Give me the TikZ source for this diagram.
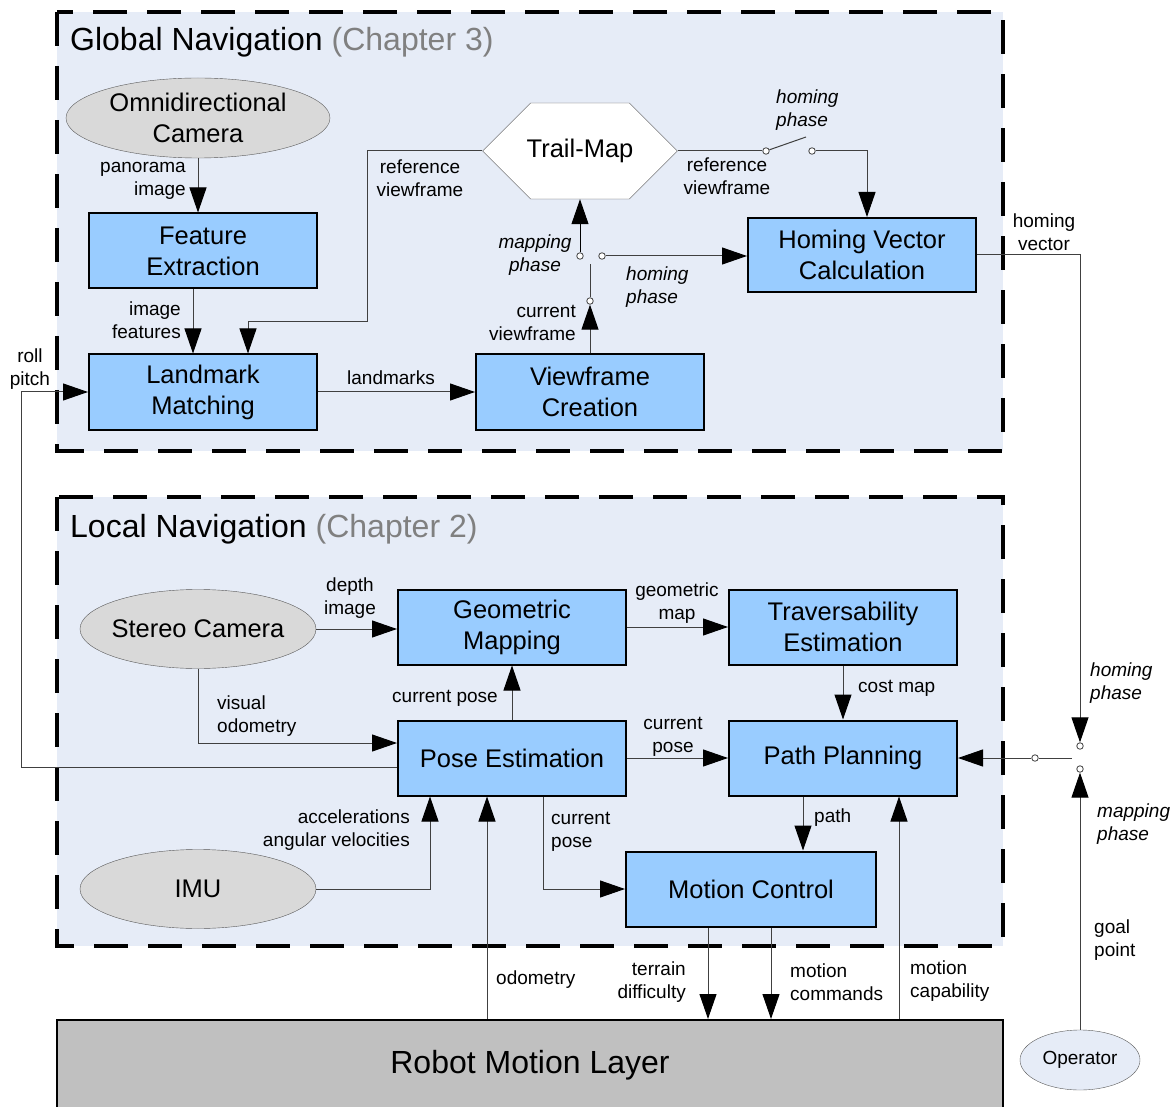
\documentclass[tikz,border=0pt]{standalone}
\usepackage{fontspec}
\setmainfont{Liberation Sans}
\usepackage{tikz}
\usetikzlibrary{shapes.geometric, shapes.symbols, arrows.meta}
\definecolor{boxblue}{HTML}{99CCFF}
\definecolor{bgblue}{HTML}{E6ECF7}
\definecolor{camgray}{HTML}{D9D9D9}
\definecolor{layergray}{HTML}{C0C0C0}
\definecolor{chapgray}{HTML}{808080}
\definecolor{wiregray}{HTML}{404040}
\tikzstyle{box} = [rectangle, 
minimum width=228pt, 
minimum height=75pt, 
text centered, 
align=center,
line width=2pt,
draw=black, 
fill=boxblue,
font=\fontsize{25.5}{31}\selectfont]
\tikzstyle{sensor} = [ellipse, 
minimum width=236pt, 
minimum height=79pt, 
inner xsep=-25pt,
align=center,
draw=black!65, 
fill=camgray,
font=\fontsize{25.5}{31}\selectfont]
\tikzstyle{store} = [signal, 
signal to=west and east, 
signal pointer angle=90,
minimum height=96pt,
inner xsep=-4pt,
draw=black!70, 
fill=white,
font=\fontsize{25.5}{31}\selectfont]
\tikzstyle{layer} = [rectangle, 
minimum width=946pt, 
minimum height=90pt,
line width=2pt,
draw=black, 
fill=layergray,
font=\fontsize{32}{38}\selectfont]
\tikzstyle{contact} = [circle, draw=wiregray, fill=white, inner sep=0pt, minimum size=6.5pt, line width=0.8pt]
\tikzstyle{lbl} = [inner sep=0pt, align=center, font=\fontsize{19}{23}\selectfont]
\tikzstyle{phaselbl} = [lbl, font=\fontsize{19}{23}\selectfont\itshape]
\tikzstyle{areatitle} = [anchor=west, inner sep=0pt, font=\fontsize{32}{38}\selectfont]
\tikzstyle{frame} = [draw=black, line width=4.5pt, dash pattern=on 34pt off 20pt, fill=bgblue]
\tikzstyle{wire} = [draw=wiregray, line width=1pt]
\tikzstyle{arrow} = [wire, -{Triangle[length=25pt, width=17pt, color=black]}]

\begin{document}
\begin{tikzpicture}[x=1pt, y=-1pt]
\useasboundingbox (0,0) rectangle (1176,1107);
% the two areas
\draw[frame] (57,12) rectangle (1003,451);
\draw[frame] (57,497) rectangle (1003,946);
\node (gtitle) [areatitle] at (70,42) {Global Navigation \textcolor{chapgray}{(Chapter 3)}};
\node (ltitle) [areatitle] at (70,529) {Local Navigation \textcolor{chapgray}{(Chapter 2)}};

% global navigation
\node (omni) [sensor, minimum width=264pt, minimum height=80pt] at (198,118) {Omnidirectional\\Camera};
\node (feat) [box] at (203,251) {Feature\\Extraction};
\node (land) [box] at (203,392) {Landmark\\Matching};
\node (view) [box] at (590,392) {Viewframe\\Creation};
\node (trail) [store] at (580,151) {Trail-Map};
\node (homing) [box, minimum height=74pt] at (862,255) {Homing Vector\\Calculation};

% switches
\node (c1) [contact] at (590,301) {};
\node (c2) [contact] at (580,256) {};
\node (c3) [contact] at (602,256) {};
\coordinate (lev1) at (590,264);
\node (c4) [contact] at (766,151) {};
\node (c5) [contact] at (812,151) {};
\coordinate (lev2) at (806,137);
\node (c6) [contact] at (1080,746) {};
\node (c7) [contact] at (1080,769) {};
\node (c8) [contact] at (1035,758) {};
\coordinate (lev3) at (1072,758);

% local navigation
\node (stereo) [sensor] at (198,629) {Stereo Camera};
\node (imu) [sensor] at (198,889) {IMU};
\node (geo) [box] at (512,627) {Geometric\\Mapping};
\node (trav) [box] at (843,627) {Traversability\\Estimation};
\node (pose) [box] at (512,758) {Pose Estimation};
\node (path) [box] at (843,758) {Path Planning};
\node (motion) [box, minimum width=250pt] at (751,889) {Motion Control};

\node (rml) [layer] at (530,1065) {Robot Motion Layer};
\node (oper) [sensor, minimum width=120pt, minimum height=60pt, fill=bgblue, font=\fontsize{19}{23}\selectfont] at (1080,1060) {Operator};

% labels
\node (l1) [lbl, anchor=east, align=right] at (186,181) {panorama\\image};
\node (l2) [lbl, anchor=east, align=right] at (181,320) {image\\features};
\node (l3) [lbl] at (420,178) {reference\\viewframe};
\node (l4) [lbl] at (391,378) {landmarks};
\node (l5) [phaselbl] at (535,255) {mapping\\phase};
\node (l6) [phaselbl, anchor=west, align=left] at (626,287) {homing\\phase};
\node (l7) [lbl, anchor=east, align=right] at (576,323) {current\\viewframe};
\node (l8) [lbl] at (727,176) {reference\\viewframe};
\node (l9) [phaselbl, anchor=west, align=left] at (776,110) {homing\\phase};
\node (l10) [lbl] at (1044,232) {homing\\vector};
\node (l11) [lbl] at (30,369) {roll\\pitch};
\node (l12) [lbl] at (350,598) {depth\\image};
\node (l13) [lbl, anchor=west, align=left] at (217,716) {visual\\odometry};
\node (l14) [lbl] at (445,698) {current pose};
\node (l15) [lbl] at (677,603) {geometric\\map};
\node (l16) [lbl, anchor=west] at (858,688) {cost map};
\node (l17) [lbl] at (673,737) {current\\pose};
\node (l18) [lbl, anchor=east, align=right] at (410,830) {accelerations\\angular velocities};
\node (l19) [lbl, anchor=west, align=left] at (551,832) {current\\pose};
\node (l20) [lbl, anchor=west] at (814,818) {path};
\node (l21) [phaselbl, anchor=west, align=left] at (1090,683) {homing\\phase};
\node (l22) [phaselbl, anchor=west, align=left] at (1097,824) {mapping\\phase};
\node (l23) [lbl, anchor=west, align=left] at (1094,940) {goal\\point};
\node (l24) [lbl, anchor=west] at (496,980) {odometry};
\node (l25) [lbl, anchor=east, align=right] at (686,982) {terrain\\difficulty};
\node (l26) [lbl, anchor=west, align=left] at (790,982) {motion\\commands};
\node (l27) [lbl, anchor=west, align=left] at (910,981) {motion\\capability};

% global connectors
\draw [arrow] (omni.south) -- (omni.south |- feat.north);
\draw [arrow] ([xshift=-10pt]feat.south) -- ([xshift=-10pt]land.north);
\draw [arrow] (trail.west) -| (367,322) -| ([xshift=45pt]land.north);
\draw [arrow] (land) -- (view);
\draw [arrow] (view) -- (c1);
\draw [wire] (c1) -- (lev1);
\draw [arrow, draw=black] (c2) -- (trail);
\draw [arrow] (c3) -- (c3 -| homing.west);
\draw [wire] (trail.east) -- (c4);
\draw [wire] (c4) -- (lev2);
\draw [arrow] (c5) -| ([xshift=5pt]homing.north);
\draw [arrow] (homing.east) -| (c6);
\draw [arrow] (c8) -- (path);
\draw [wire] (c8) -- (lev3);
\draw [arrow] (oper) -- (c7);
\draw [arrow] ([yshift=-9pt]pose.west) -| (21,392) -- (land.west);

% local connectors
\draw [arrow] (stereo.east) -- (stereo.east -| geo.west);
\draw [arrow] (stereo.south) |- ([yshift=15pt]pose.west);
\draw [arrow] (pose) -- (geo);
\draw [arrow] (geo) -- (trav);
\draw [arrow] (trav) -- (path);
\draw [arrow] (pose) -- (path);
\draw [arrow] ([xshift=31pt]pose.south) |- (motion.west);
\draw [arrow] (imu.east) -| ([xshift=-82pt]pose.south);
\draw [arrow] ([xshift=-25pt]pose.south |- rml.north) -- ([xshift=-25pt]pose.south);
\draw [arrow] ([xshift=-40pt]path.south) -- ([xshift=-40pt]path.south |- motion.north);
\draw [arrow] ([xshift=-43pt]motion.south) -- ([xshift=-43pt]motion.south |- rml.north);
\draw [arrow] ([xshift=20pt]motion.south) -- ([xshift=20pt]motion.south |- rml.north);
\draw [arrow] ([xshift=56pt]path.south |- rml.north) -- ([xshift=56pt]path.south);

\end{tikzpicture}
\end{document}
